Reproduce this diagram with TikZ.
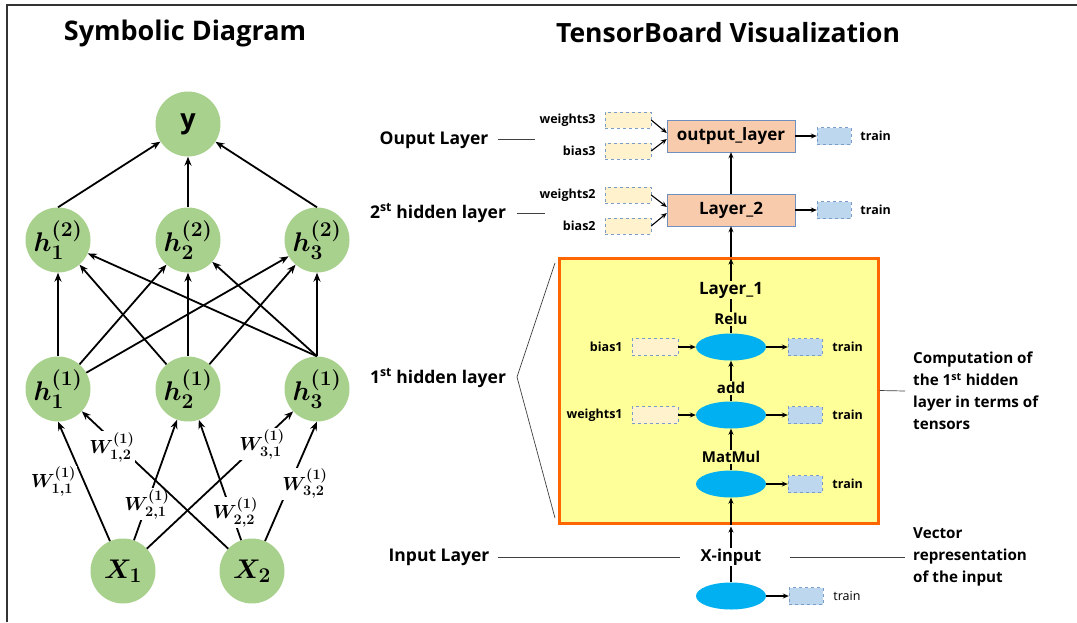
\documentclass[tikz,border=0pt]{standalone}
\usepackage{fix-cm}
\usepackage{amsmath,amssymb}
\usepackage{fontspec}
\setmainfont{Open Sans}
\usepackage{tikz}
\usetikzlibrary{arrows.meta,positioning,shapes.geometric}
\DeclareMathSizes{27}{27}{21}{16}
\DeclareMathSizes{19}{19}{14.5}{11}
\definecolor{leafg}{HTML}{A9D18E}
\definecolor{peachx}{HTML}{F8CBAD}
\definecolor{edgeblue}{HTML}{6F8FBF}
\definecolor{creamx}{HTML}{FFF2CC}
\definecolor{paleblue}{HTML}{BDD7EE}
\definecolor{dashx}{HTML}{7A9CC6}
\definecolor{cyanx}{HTML}{00B0F0}
\definecolor{lemon}{HTML}{FFFF99}
\definecolor{orangex}{HTML}{FF6600}
\tikzset{
  ar/.style={-{Stealth[length=6pt,width=5pt]},line width=1.1pt},
  nar/.style={-{Stealth[length=9pt,width=7pt]},line width=1.8pt},
  neuron/.style={circle,fill=leafg,minimum size=65pt,inner sep=0pt,font=\fontsize{27}{27}\selectfont\boldmath},
  wlab/.style={fill=white,inner sep=1pt,font=\fontsize{19}{19}\selectfont\boldmath},
  layerbox/.style={draw=edgeblue,fill=peachx,minimum width=128pt,minimum height=32pt,font=\bfseries\fontsize{17}{17}\selectfont},
  varbox/.style={draw=dashx,dashed,fill=creamx,minimum width=46pt,minimum height=16pt,inner sep=0pt},
  trainbox/.style={draw=dashx,dashed,fill=paleblue,minimum width=34pt,minimum height=17pt,inner sep=0pt},
  op/.style={ellipse,fill=cyanx,minimum width=70pt,minimum height=27pt,inner sep=0pt},
  tag/.style={font=\bfseries\fontsize{12.5}{12.5}\selectfont,inner sep=1pt},
  opname/.style={font=\bfseries\fontsize{15}{15}\selectfont,inner sep=1pt},
  side/.style={font=\bfseries\fontsize{17.5}{22}\selectfont,align=left,inner sep=0pt},
  note/.style={font=\bfseries\fontsize{15.2}{22}\selectfont,align=left,inner sep=0pt,anchor=west},
  rule/.style={draw=black!75,line width=0.7pt}
}
\begin{document}
\begin{tikzpicture}[x=1pt,y=-1pt]
\useasboundingbox (0,0) rectangle (1077,622);
\draw[line width=1.2pt,black!80] (7,622) -- (7,5) -- (1077,5);
\node[font=\bfseries\fontsize{27}{27}\selectfont] (ttl1) at (185,33) {Symbolic Diagram};
\node[font=\bfseries\fontsize{26.5}{26.5}\selectfont] (ttl2) at (728,33) {TensorBoard Visualization};

% symbolic network
\node[neuron] (y) at (188,124) {\textbf{y}};
\node[neuron] (h21) at (58,240) {$h^{(2)}_1$};
\node[neuron] (h22) at (188,240) {$h^{(2)}_2$};
\node[neuron] (h23) at (317,240) {$h^{(2)}_3$};
\node[neuron] (h11) at (58,389) {$h^{(1)}_1$};
\node[neuron] (h12) at (188,389) {$h^{(1)}_2$};
\node[neuron] (h13) at (317,389) {$h^{(1)}_3$};
\node[neuron] (x1) at (123,571) {$X_1$};
\node[neuron] (x2) at (252,571) {$X_2$};
\foreach \k in {1,2,3} \draw[nar] (h2\k.north) -- (y);
\foreach \i in {1,2} \foreach \j in {1,2,3} \draw[nar] (h1\i) -- (h2\j);
\foreach \j in {1,2,3} \draw[nar] (h13.north) -- (h2\j);
\draw[nar] (x1) -- (h11.south) node[wlab,pos=.5,left=6pt]{$W^{(1)}_{1,1}$};
\draw[nar] (x1) -- node[wlab,pos=.3]{$W^{(1)}_{2,1}$} (h12);
\draw[nar] (x1) -- node[wlab,pos=.76,xshift=4pt]{$W^{(1)}_{3,1}$} (h13);
\draw[nar] (x2) -- node[wlab,pos=.74,xshift=-8pt]{$W^{(1)}_{1,2}$} (h11);
\draw[nar] (x2) -- node[wlab,pos=.23,xshift=4pt]{$W^{(1)}_{2,2}$} (h12);
\draw[nar] (x2) -- node[wlab,pos=.48,xshift=15pt]{$W^{(1)}_{3,2}$} (h13.south);

% tensorboard graph
\node[layerbox] (outl) at (731,136) {output\_layer};
\node[layerbox] (l2) at (731,210) {Layer\_2};
\node[varbox] (w3) at (628,120) {};
\node[varbox] (b3) at (628,151) {};
\node[varbox] (w2) at (628,195) {};
\node[varbox] (b2) at (628,226) {};
\node[tag,left=8pt of w3] (w3lab) {weights3};
\node[tag,left=8pt of b3] (b3lab) {bias3};
\node[tag,left=8pt of w2] (w2lab) {weights2};
\node[tag,left=8pt of b2] (b2lab) {bias2};
\node[trainbox] (t3) at (834,136) {};
\node[trainbox] (t2) at (834,210) {};
\node[tag,right=8pt of t3] (t3lab) {train};
\node[tag,right=8pt of t2] (t2lab) {train};
\draw[ar] (w3.east) -- ([yshift=3pt]outl.west);
\draw[ar] (b3.east) -- ([yshift=-3pt]outl.west);
\draw[ar] (w2.east) -- ([yshift=3pt]l2.west);
\draw[ar] (b2.east) -- ([yshift=-3pt]l2.west);
\draw[ar] (outl) -- (t3);
\draw[ar] (l2) -- (t2);
\draw[ar] (l2) -- (outl);

\node[draw=orangex,line width=3pt,fill=lemon,minimum width=319pt,minimum height=265pt,inner sep=0pt] (hid) at (718.5,390.5) {};
\node[font=\bfseries\fontsize{17}{17}\selectfont,inner sep=1pt] (l1) at (731,290) {Layer\_1};
\node[opname] (relu) at (731,319) {Relu};
\node[op] (e1) at (731,347) {};
\node[opname] (addn) at (731,388) {add};
\node[op] (e2) at (731,415) {};
\node[opname] (mm) at (731,457) {MatMul};
\node[op] (e3) at (731,484) {};
\node[varbox,minimum height=17pt] (b1) at (655,347) {};
\node[varbox,minimum height=17pt] (w1) at (655,415) {};
\node[tag,left=8pt of b1] (b1lab) {bias1};
\node[tag,left=8pt of w1] (w1lab) {weights1};
\node[trainbox] (t1a) at (805,347) {};
\node[trainbox] (t1b) at (805,415) {};
\node[trainbox] (t1c) at (805,484) {};
\node[tag,right=9pt of t1a] (t1alab) {train};
\node[tag,right=9pt of t1b] (t1blab) {train};
\node[tag,right=9pt of t1c] (t1clab) {train};
\draw[ar] (b1) -- (e1);
\draw[ar] (w1) -- (e2);
\draw[ar] (e1) -- (t1a);
\draw[ar] (e2) -- (t1b);
\draw[ar] (e3) -- (t1c);
\draw[line width=1.1pt] (e3) -- (mm);
\draw[ar] (mm) -- (e2);
\draw[line width=1.1pt] (e2) -- (addn);
\draw[ar] (addn) -- (e1);
\draw[line width=1.1pt] (e1) -- (relu);
\draw[line width=1.1pt] (relu) -- (l1);
\draw[ar] (l1) -- ([yshift=-2pt]l1 |- hid.north);
\draw[ar] (l1 |- hid.north) -- (l2);

\node[font=\bfseries\fontsize{16.5}{16.5}\selectfont,inner sep=1pt] (xin) at (731,557) {X-input};
\node[op] (e0) at (731,596) {};
\node[trainbox] (t0) at (806,596) {};
\node[font=\fontsize{12.5}{12.5}\selectfont,inner sep=1pt,right=9pt of t0] (t0lab) {train};
\draw[line width=1.1pt] (e0) -- (xin);
\draw[ar] (e0) -- (t0);
\draw[ar] (xin) -- ([yshift=-2pt]xin |- hid.south);
\draw[ar] (xin |- hid.south) -- (e3);

% side notes
\node[side] (outtag) at (434,140) {Ouput Layer};
\node[side] (h2tag) at (438,213) {2\textsuperscript{st} hidden layer};
\node[side] (h1tag) at (438,378) {1\textsuperscript{st} hidden layer};
\node[side] (intag) at (439,557) {Input Layer};
\node[note] (comptag) at (913,391) {Computation of\\the 1\textsuperscript{st} hidden\\layer in terms of\\tensors};
\node[note] (vectag) at (913,557) {Vector\\representation\\of the input};
\coordinate (apex) at (517,377);
\draw[rule] (555,263) -- (apex) -- (555,518);
\draw[rule] (498,139) -- (535,139);
\draw[rule] (517,213) -- (545,213);
\draw[rule] (498,557) -- (680,557);
\draw[rule] (790,557) -- (905,557);
\draw[rule] (hid.east) -- (905,391);
\end{tikzpicture}
\end{document}
